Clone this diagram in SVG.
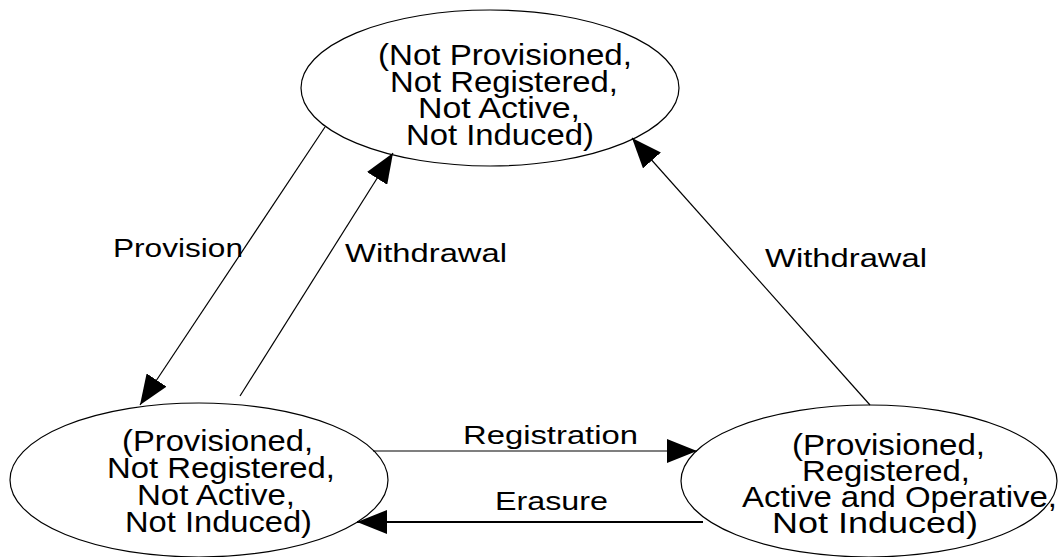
<svg xmlns="http://www.w3.org/2000/svg" width="1058" height="557" viewBox="0 0 1058 557">
<style>
  .st { fill: #fff; stroke: #000; stroke-width: 1.2; }
  .nt { font-family: "Liberation Sans", Arial, sans-serif; font-size: 29px; fill: #000; }
  .lb { font-family: "Liberation Sans", Arial, sans-serif; font-size: 26px; fill: #000; }
  .cn { stroke: #000; stroke-width: 1.2; fill: none; marker-end: url(#ah); }
</style>
<defs>
  <marker id="ah" viewBox="0 0 30 24" refX="30" refY="12" markerWidth="30" markerHeight="24" markerUnits="userSpaceOnUse" orient="auto">
    <path d="M0,0 L30,12 L0,24 z" fill="#000"/>
  </marker>
</defs>
<rect width="1058" height="557" fill="#fff"/>
<g id="n-top">
  <ellipse class="st" cx="490" cy="88" rx="189" ry="78"/>
  <text class="nt" x="378" y="65" textLength="254" lengthAdjust="spacingAndGlyphs">(Not Provisioned,</text>
  <text class="nt" x="390" y="92" textLength="228" lengthAdjust="spacingAndGlyphs">Not Registered,</text>
  <text class="nt" x="418" y="118" textLength="162" lengthAdjust="spacingAndGlyphs">Not Active,</text>
  <text class="nt" x="406" y="145" textLength="188" lengthAdjust="spacingAndGlyphs">Not Induced)</text>
</g>
<g id="n-left">
  <ellipse class="st" cx="199" cy="480" rx="189" ry="77"/>
  <text class="nt" x="122" y="451" textLength="191" lengthAdjust="spacingAndGlyphs">(Provisioned,</text>
  <text class="nt" x="107" y="478" textLength="228" lengthAdjust="spacingAndGlyphs">Not Registered,</text>
  <text class="nt" x="137" y="505" textLength="158" lengthAdjust="spacingAndGlyphs">Not Active,</text>
  <text class="nt" x="125" y="532" textLength="187" lengthAdjust="spacingAndGlyphs">Not Induced)</text>
</g>
<g id="n-right">
  <ellipse class="st" cx="869" cy="481" rx="188" ry="76"/>
  <text class="nt" x="792" y="455" textLength="193" lengthAdjust="spacingAndGlyphs">(Provisioned,</text>
  <text class="nt" x="802" y="481" textLength="168" lengthAdjust="spacingAndGlyphs">Registered,</text>
  <text class="nt" x="742" y="507" textLength="315" lengthAdjust="spacingAndGlyphs">Active and Operative,</text>
  <text class="nt" x="772" y="533" textLength="206" lengthAdjust="spacingAndGlyphs">Not Induced)</text>
</g>
<g id="connectors">
  <line class="cn" x1="325" y1="127" x2="140" y2="405"/>
  <line class="cn" x1="240" y1="396" x2="393" y2="153"/>
  <line class="cn" x1="870" y1="405" x2="632" y2="138"/>
  <line class="cn" x1="373" y1="451" x2="697" y2="451"/>
  <line class="cn" x1="703" y1="522" x2="357" y2="522" style="stroke-width:2"/>
  <text class="lb" x="113" y="257" textLength="130" lengthAdjust="spacingAndGlyphs">Provision</text>
  <text class="lb" x="345" y="262" textLength="162" lengthAdjust="spacingAndGlyphs">Withdrawal</text>
  <text class="lb" x="765" y="267" textLength="162" lengthAdjust="spacingAndGlyphs">Withdrawal</text>
  <text class="lb" x="463" y="444" textLength="175" lengthAdjust="spacingAndGlyphs">Registration</text>
  <text class="lb" x="495" y="510" textLength="113" lengthAdjust="spacingAndGlyphs">Erasure</text>
</g>
</svg>
